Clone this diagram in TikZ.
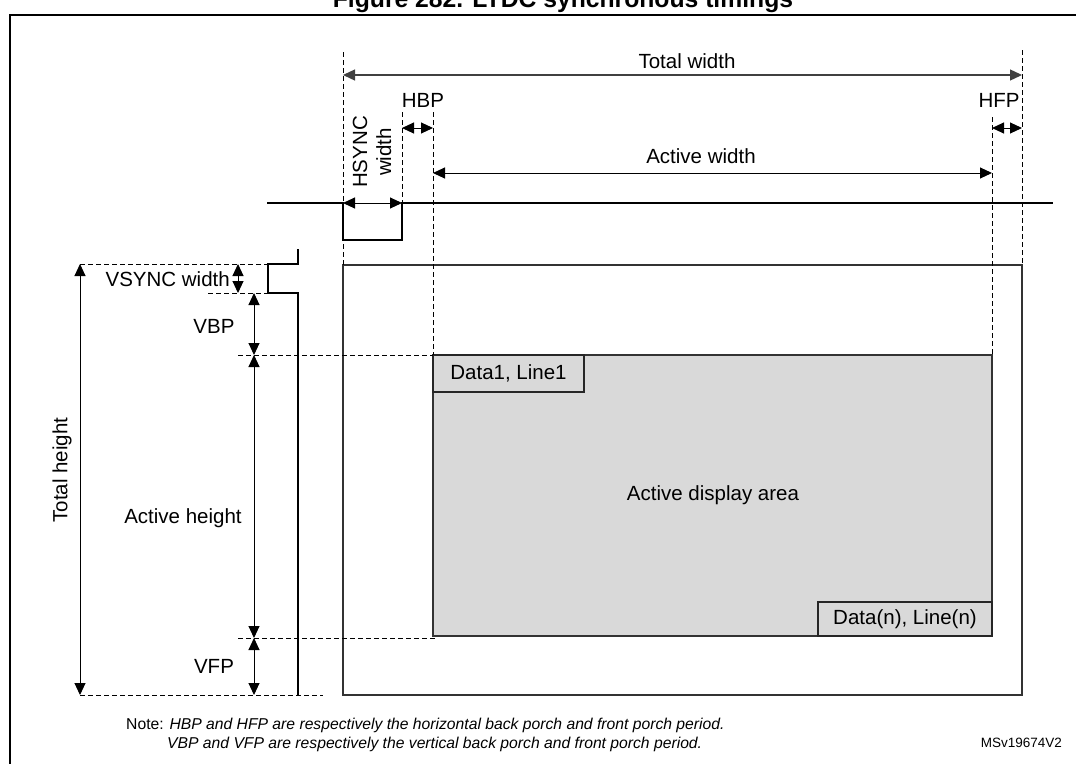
\documentclass[tikz,border=0pt]{standalone}
\usepackage{fontspec}
\setmainfont{Liberation Sans}
\usetikzlibrary{arrows.meta}

\tikzset{
  dimline/.style={{Triangle[length=12pt,width=11pt]}-{Triangle[length=12pt,width=11pt]}, line width=1pt},
  guide/.style={dash pattern=on 5pt off 3pt, line width=1pt},
  sigline/.style={line width=2.5pt},
  lbl/.style={font=\fontsize{20.5}{24}\selectfont, inner sep=0pt},
  notetxt/.style={font=\fontsize{15.7}{18}\selectfont, inner sep=0pt, anchor=base west},
  screen/.style={draw=black!80, line width=1.2pt, inner sep=0pt, outer sep=0pt},
  databox/.style={draw=black!85, fill=black!15, line width=1.2pt, inner sep=0pt, outer sep=0pt,
    font=\fontsize{20.5}{24}\selectfont}
}

\begin{document}
\begin{tikzpicture}[x=1pt,y=-1pt]
		\useasboundingbox (0,0) rectangle (1076,763);

		% frame and title
		\draw[line width=2pt] (10,790) -- (10,15) -- (1100,15);
		\node[font=\fontsize{24.7}{28}\selectfont\bfseries, anchor=base, inner sep=0pt] (title) at (563,7) {Figure 282. LTDC synchronous timings};

		% display frame and active area
		\node[screen, minimum width=679pt, minimum height=430pt, anchor=north west] (disp) at (343,265) {};
		\node[screen, fill=black!15, minimum width=559pt, minimum height=281pt, anchor=north west] (act) at (433,355) {};
		\node[databox, minimum width=151pt, minimum height=37pt, anchor=north west] (d1) at (act.north west) {Data1, Line1};
		\node[databox, minimum width=174pt, minimum height=34pt, anchor=south east] (dn) at (act.south east) {Data(n), Line(n)};
		\node[lbl, anchor=base] (area) at (713,500) {Active display area};

		% guides
		\draw[guide] (343,52) -- (disp.north west);
		\draw[guide] (402,112) -- (402,203);
		\draw[guide] (433,112) -- (act.north west);
		\draw[guide] (992,117) -- (act.north east);
		\draw[guide] (1022,50) -- (disp.north east);
		\draw[guide] (80,264) -- (268,264);
		\draw[guide] (208,293) -- (268,293);
		\draw[guide] (238,355) -- (act.north west);
		\draw[guide] (238,638) -- (435,638);
		\draw[guide] (80,695) -- (323,695);

		% sync signals
		\draw[sigline] (267,203) -- (343,203) -- (343,240) -- (402,240) -- (402,203) -- (1053,203);
		\draw[sigline] (298,249) -- (298,264) -- (268,264) -- (268,293) -- (298,293) -- (298,695);

		% horizontal timings
		\coordinate (twL) at (343,75);   \coordinate (twR) at (1022,75);
		\coordinate (hbpL) at (402,128); \coordinate (hbpR) at (433,128);
		\coordinate (hfpL) at (992,128); \coordinate (hfpR) at (1022,128);
		\coordinate (awL) at (433,173);  \coordinate (awR) at (992,173);
		\coordinate (hsL) at (343,203);  \coordinate (hsR) at (402,203);
		\draw[dimline, draw=black!75, line width=1.3pt] (twL) -- (twR);
		\draw[dimline] (hbpL) -- (hbpR);
		\draw[dimline] (hfpL) -- (hfpR);
		\draw[dimline] (awL) -- (awR);
		\draw[dimline] (hsL) -- (hsR);
		\node[lbl, anchor=base] (twlbl) at (687,68) {Total width};
		\node[lbl, anchor=base] (hbplbl) at (423,107) {HBP};
		\node[lbl, anchor=base] (hfplbl) at (999,107) {HFP};
		\node[lbl, anchor=base] (awlbl) at (701,163) {Active width};
		\node[lbl, rotate=90, align=center] (hslbl) at (372,152) {HSYNC\\width};

		% vertical timings
		\coordinate (thT) at (80,264);   \coordinate (thB) at (80,695);
		\coordinate (vsT) at (238,264);  \coordinate (vsB) at (238,293);
		\coordinate (vbpT) at (254,293); \coordinate (vbpB) at (254,355);
		\coordinate (ahB) at (254,638);  \coordinate (vfpB) at (254,695);
		\draw[dimline] (thT) -- (thB);
		\draw[dimline] (vsT) -- (vsB);
		\draw[dimline] (vbpT) -- (vbpB);
		\draw[dimline] (vbpB) -- (ahB);
		\draw[dimline] (ahB) -- (vfpB);
		\node[lbl, rotate=90] (thlbl) at (62,470) {Total height};
		\node[lbl, anchor=base east] (vslbl) at (230,286) {VSYNC width};
		\node[lbl, anchor=base] (vbplbl) at (214,333) {VBP};
		\node[lbl, anchor=base] (ahlbl) at (183,523) {Active height};
		\node[lbl, anchor=base] (vfplbl) at (214,673) {VFP};

		% notes
		\node[notetxt] (note1) at (126,729) {Note: \textit{HBP and HFP are respectively the horizontal back porch and front porch period.}};
		\node[notetxt] (note2) at (167,748) {\textit{VBP and VFP are respectively the vertical back porch and front porch period.}};
		\node[font=\fontsize{13.5}{16}\selectfont, anchor=base east, inner sep=0pt] (ref) at (1062,747) {MSv19674V2};
	\end{tikzpicture}
\end{document}
